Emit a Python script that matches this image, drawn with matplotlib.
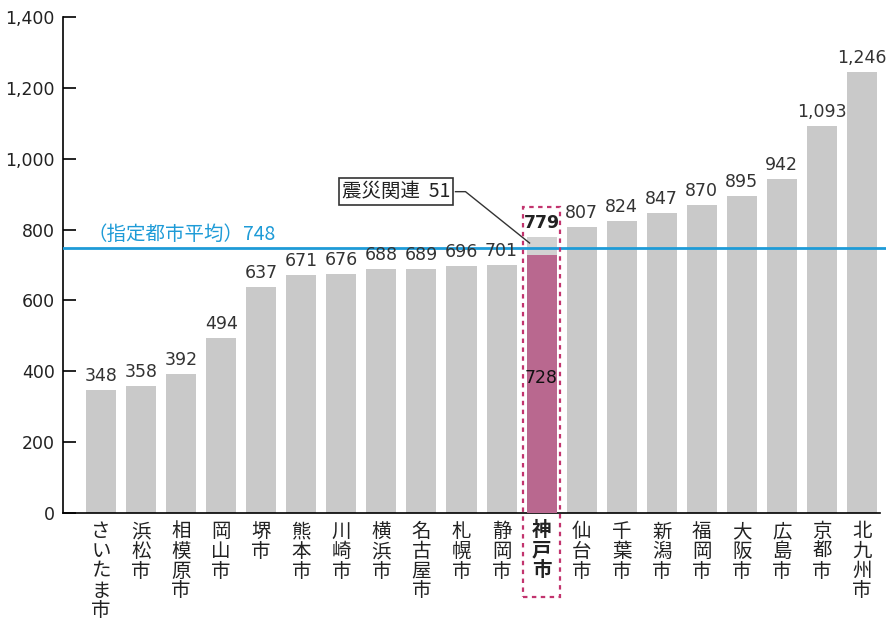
import numpy as np
import matplotlib.pyplot as plt
from matplotlib.patches import Rectangle

plt.rcParams['font.family'] = ['Noto Sans CJK JP', 'DejaVu Sans']

# =============================================================================
# Data
# =============================================================================
cities = ['さいたま市', '浜松市', '相模原市', '岡山市', '堺市', '熊本市', '川崎市',
          '横浜市', '名古屋市', '札幌市', '静岡市', '神戸市', '仙台市', '千葉市',
          '新潟市', '福岡市', '大阪市', '広島市', '京都市', '北九州市']
values = [348, 358, 392, 494, 637, 671, 676, 688, 689, 696, 701, 779, 807,
          824, 847, 870, 895, 942, 1093, 1246]
kobe_base = 728          # 神戸市 (震災関連を除く)
kobe_quake = 51          # 震災関連
city_avg = 748           # 指定都市平均
yticks = [0, 200, 400, 600, 800, 1000, 1200, 1400]

GREY = '#c9c9c9'
PINK = '#b9688f'
BLUE = '#1e9bd7'
KOBE = cities.index('神戸市')

fig = plt.figure(figsize=(8.86, 6.23), dpi=100)
ax = fig.add_axes([63 / 886, 110 / 623, 1 - 63 / 886, 496 / 623])

x = np.arange(len(cities))
width = 0.75
ax.bar(x, values, width=width, color=GREY, zorder=2)
# Kobe: split into base + earthquake related part
ax.bar(KOBE, kobe_base, width=width, color=PINK, zorder=3)
ax.bar(KOBE, kobe_quake, bottom=kobe_base, width=width,
       color='#d2d2d2', zorder=3)

for i, v in enumerate(values):
    ax.text(i, v + 14, f'{v:,}', ha='center', va='bottom', fontsize=12.5,
            color='#222222' if i == KOBE else '#333333',
            fontweight='bold' if i == KOBE else 'normal',
            family='DejaVu Sans', zorder=5)
ax.text(KOBE, 380, str(kobe_base), ha='center', va='center', fontsize=12.5,
        color='#111111', family='DejaVu Sans', zorder=5)

# average line
ax.axhline(city_avg, color=BLUE, lw=2, zorder=4)
ax.text(-0.35, city_avg + 8, '（指定都市平均）748', color=BLUE, fontsize=14,
        ha='left', va='bottom', zorder=5)

# dashed box around Kobe
ax.add_patch(Rectangle((KOBE - 0.47, -237), 0.94, 1100, fill=False,
                       edgecolor='#c2346e', lw=1.6, ls=(0, (2, 2)),
                       clip_on=False, zorder=6))

# callout
ax.text(7.37, 907, '震災関連  51', ha='center', va='center', fontsize=14,
        color='#222222', zorder=6,
        bbox=dict(boxstyle='square,pad=0.15', fc='white', ec='#333333', lw=1.2))
ax.plot([8.85, 9.1, 10.7], [907, 907, 762], color='#333333', lw=1, zorder=5)

# axes styling
ax.set_xlim(-0.95, 19.6)
ax.set_ylim(0, 1400)
ax.set_yticks(yticks)
ax.set_yticklabels([f'{t:,}' for t in yticks], family='DejaVu Sans',
                   fontsize=12.5, color='#222222')
ax.tick_params(axis='y', direction='in', length=9, width=1.2, pad=6)
ax.set_xticks([])
for s in ['top', 'right']:
    ax.spines[s].set_visible(False)
ax.spines['left'].set_linewidth(1.2)
ax.spines['bottom'].set_linewidth(1.2)
ax.spines['bottom'].set_bounds(-0.95, 19.45)

# vertical city labels, one character per row
for i, name in enumerate(cities):
    for k, ch in enumerate(name):
        ax.annotate(ch, xy=(i, 0), xytext=(0, -6 - 14.2 * k),
                    textcoords='offset points', ha='center', va='top',
                    fontsize=14, color='#222222',
                    fontweight='bold' if i == KOBE else 'normal',
                    annotation_clip=False)

fig.savefig('out.png', dpi=100)
